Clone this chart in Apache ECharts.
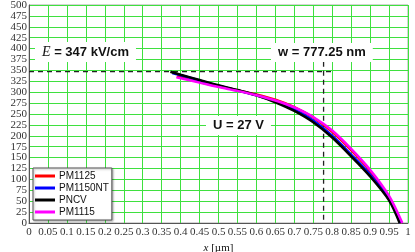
<!DOCTYPE html>
<html><head><meta charset="utf-8">
<script src="https://cdn.jsdelivr.net/npm/echarts@6/dist/echarts.min.js"></script>
<style>html,body{margin:0;padding:0;background:#fff}#c{width:415px;height:252px}</style>
</head><body><div id="c"></div>
<script>
// Data
const seriesNames = ['PM1125', 'PM1150NT', 'PNCV', 'PM1115'];
const seriesColors = ['#ff0000', '#0000ff', '#000000', '#ff00ff'];
const pm1125 = [[0.390,336],[0.45,323.5],[0.50,313.5],[0.55,304.5],[0.60,295],[0.65,283],[0.70,266],[0.75,242],[0.80,209],[0.85,167],[0.90,119],[0.95,58],[0.983,0]];
const pm1150nt = [[0.378,344],[0.40,339],[0.45,327],[0.50,315],[0.55,304],[0.60,293],[0.65,279],[0.70,260],[0.75,235],[0.80,200],[0.85,157],[0.90,111],[0.95,54],[0.980,0]];
const pncv = [[0.373,347],[0.40,340],[0.45,328],[0.50,316],[0.55,305],[0.60,293],[0.65,277],[0.70,257],[0.75,231],[0.80,196],[0.85,153],[0.90,107],[0.95,52],[0.978,0]];
const pm1115 = [[0.389,334],[0.45,322],[0.50,312],[0.55,303],[0.60,293],[0.65,281],[0.70,265],[0.75,243],[0.80,212],[0.85,170],[0.90,122],[0.95,62],[0.985,0]];
const Emax = 347;          // kV/cm
const wDepth = 0.77725;    // µm
const hLineEnd = 0.80;
const vLineTop = 370;
const xTicks = {min: 0, max: 1, interval: 0.05};
const yTicks = {min: 0, max: 500, interval: 25};

const allData = [pm1125, pm1150nt, pncv, pm1115];
const chart = echarts.init(document.getElementById('c'));
const labelFont = {fontFamily: '"Liberation Serif","Times New Roman",serif', fontSize: 11, color: '#333'};
const series = allData.map((d, i) => ({
  name: seriesNames[i], type: 'line', data: d, smooth: 0.3, showSymbol: false, symbol: 'none',
  lineStyle: {color: seriesColors[i], width: 2.5}, itemStyle: {color: seriesColors[i]}, z: 3 + i
}));
series.push({type: 'line', data: [[0, Emax], [hLineEnd, Emax]], symbol: 'none', lineStyle: {color: '#222', width: 1.3, type: [5, 4]}, z: 2, silent: true});
series.push({type: 'line', data: [[wDepth, vLineTop], [wDepth, 0]], symbol: 'none', lineStyle: {color: '#222', width: 1.3, type: [5, 4]}, z: 2, silent: true});

const annText = (left, top, rich, text) => ({
  type: 'text', left, top, z: 10,
  style: {text, rich, backgroundColor: '#fff', padding: [3, 7, 3, 7], fill: '#111', font: 'bold 13px "Liberation Sans", Arial, sans-serif'}
});

chart.setOption({
  animation: false,
  grid: {left: 29, right: 7, top: 5, bottom: 29, containLabel: false, outerBoundsMode: 'none', show: true, borderColor: '#aaa', borderWidth: 1},
  xAxis: {
    type: 'value', min: xTicks.min, max: xTicks.max, interval: xTicks.interval,
    axisLine: {show: true, lineStyle: {color: '#555'}}, axisTick: {show: false},
    axisLabel: Object.assign({margin: 4, hideOverlap: false, formatter: v => String(+v.toFixed(2))}, labelFont),
    splitLine: {show: true, lineStyle: {color: '#3fe03f', width: 1}},
    name: '{i|x} [µm]', nameLocation: 'middle', nameGap: 10,
    nameTextStyle: {fontFamily: '"Liberation Serif",serif', fontSize: 11, color: '#111', verticalAlign: 'top',
      rich: {i: {fontStyle: 'italic', fontFamily: '"Liberation Serif",serif', fontSize: 11, color: '#111'}}}
  },
  yAxis: {
    type: 'value', min: yTicks.min, max: yTicks.max, interval: yTicks.interval,
    axisLine: {show: true, lineStyle: {color: '#555'}}, axisTick: {show: false},
    axisLabel: Object.assign({margin: 2, hideOverlap: false}, labelFont),
    splitLine: {show: true, lineStyle: {color: '#3fe03f', width: 1}},
    name: '{i|E}[kV/cm]', nameLocation: 'middle', nameGap: 23,
    nameTextStyle: {fontFamily: '"Liberation Serif",serif', fontSize: 10, color: '#111',
      rich: {i: {fontStyle: 'italic', fontFamily: '"Liberation Serif",serif', fontSize: 10, color: '#111'}}}
  },
  legend: {
    data: seriesNames, orient: 'vertical', left: 33, top: 168, icon: 'rect', itemWidth: 20, itemHeight: 3,
    itemGap: 2, padding: [3, 3, 3, 2], backgroundColor: '#fff', borderColor: '#555', borderWidth: 1,
    shadowColor: 'rgba(0,0,0,0.3)', shadowBlur: 2, shadowOffsetX: 1, shadowOffsetY: 1,
    textStyle: {fontFamily: '"Liberation Sans",Arial,sans-serif', fontSize: 10, color: '#111', padding: [0, 0, 0, -1]},
    z: 20
  },
  graphic: [
    annText(35, 42, {i: {fontStyle: 'italic', fontWeight: 'normal', fontFamily: '"Liberation Serif",serif', fontSize: 14, color: '#111'}}, '{i|E} = ' + Emax + ' kV/cm'),
    annText(271, 43, {}, 'w = ' + (wDepth * 1000).toFixed(2) + ' nm'),
    annText(206, 116, {}, 'U = 27 V')
  ],
  series
});
</script></body></html>
